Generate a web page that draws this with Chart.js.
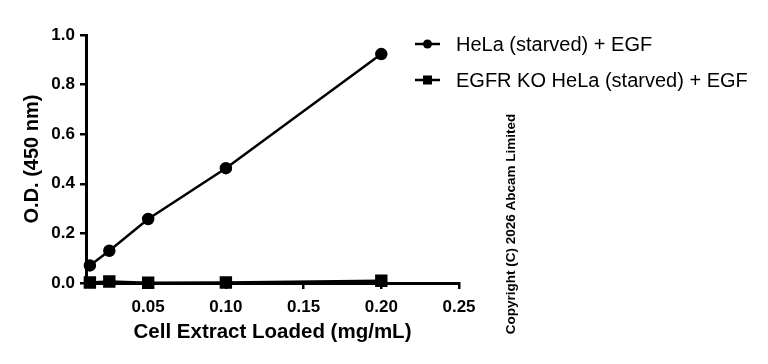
<!DOCTYPE html>
<html>
<head>
<meta charset="utf-8">
<script src="https://cdn.jsdelivr.net/npm/chart.js@4"></script>
<style>
  html, body { margin: 0; padding: 0; background: #fff; }
  #wrap { position: relative; width: 768px; height: 364px; }
</style>
</head>
<body>
<div id="wrap"><canvas id="c" width="768" height="364"></canvas></div>
<script>
const concentrations = [0.0125, 0.025, 0.05, 0.1, 0.2];
const helaValues = [0.071, 0.130, 0.258, 0.463, 0.923];
const koValues = [0.002, 0.006, 0.001, 0.002, 0.009];
const seriesNames = ['HeLa (starved) + EGF', 'EGFR KO HeLa (starved) + EGF'];
const xTickValues = [0.05, 0.10, 0.15, 0.20, 0.25];
const yTickValues = [0.0, 0.2, 0.4, 0.6, 0.8, 1.0];
const xTitle = 'Cell Extract Loaded (mg/mL)';
const yTitle = 'O.D. (450 nm)';
const copyrightText = 'Copyright (C) 2026 Abcam Limited';

const FONT = '"Liberation Sans", Arial, Helvetica, sans-serif';

const toPts = (xs, ys) => xs.map((x, i) => ({ x: x, y: ys[i] }));

const overlayPlugin = {
  id: 'overlay',
  afterDraw(chart) {
    const ctx = chart.ctx;
    ctx.save();
    const items = [
      { label: seriesNames[0], style: 'circle', y: 44 },
      { label: seriesNames[1], style: 'rect', y: 80 }
    ];
    items.forEach(it => {
      ctx.strokeStyle = '#000';
      ctx.lineWidth = 2.5;
      ctx.beginPath();
      ctx.moveTo(415, it.y);
      ctx.lineTo(440, it.y);
      ctx.stroke();
      ctx.fillStyle = '#000';
      if (it.style === 'circle') {
        ctx.beginPath();
        ctx.arc(427.5, it.y, 4.5, 0, Math.PI * 2);
        ctx.fill();
      } else {
        ctx.fillRect(423, it.y - 4.5, 9, 9);
      }
      ctx.font = '20px ' + FONT;
      ctx.textBaseline = 'middle';
      ctx.textAlign = 'left';
      ctx.fillText(it.label, 456, it.y + 1);
    });
    ctx.translate(511, 224);
    ctx.rotate(-Math.PI / 2);
    ctx.font = 'bold 13.5px ' + FONT;
    ctx.textAlign = 'center';
    ctx.textBaseline = 'middle';
    ctx.fillStyle = '#000';
    ctx.fillText(copyrightText, 0, 0);
    ctx.restore();
  }
};

new Chart(document.getElementById('c'), {
  type: 'scatter',
  data: {
    datasets: [
      {
        label: seriesNames[0],
        data: toPts(concentrations, helaValues),
        showLine: true,
        borderColor: '#000',
        backgroundColor: '#000',
        borderWidth: 2.5,
        pointStyle: 'circle',
        pointRadius: 5,
        pointHoverRadius: 5,
        clip: false
      },
      {
        label: seriesNames[1],
        data: toPts(concentrations, koValues),
        showLine: true,
        borderColor: '#000',
        backgroundColor: '#000',
        borderWidth: 2.5,
        pointStyle: 'rect',
        pointRadius: 7,
        pointHoverRadius: 7,
        clip: false
      }
    ]
  },
  options: {
    responsive: false,
    animation: false,
    events: [],
    layout: { padding: { top: 35, right: 309, left: 0, bottom: 0 } },
    plugins: {
      legend: { display: false },
      tooltip: { enabled: false }
    },
    scales: {
      x: {
        type: 'linear',
        min: 0.01,
        max: 0.25,
        afterBuildTicks(scale) {
          scale.ticks = xTickValues.map(v => ({ value: v }));
        },
        afterFit(scale) { scale.height = 81; },
        border: { display: true, color: '#000', width: 3 },
        grid: { drawOnChartArea: false, drawTicks: true, tickLength: 6, color: '#000', lineWidth: 2.5 },
        ticks: {
          color: '#000',
          font: { family: FONT, size: 17, weight: 'bold' },
          padding: 8,
          maxRotation: 0,
          callback: v => Number(v).toFixed(2)
        },
        title: {
          display: true,
          text: xTitle,
          color: '#000',
          font: { family: FONT, size: 20.5, weight: 'bold' },
          padding: { top: 0, bottom: 19 }
        }
      },
      y: {
        type: 'linear',
        min: 0,
        max: 1.0,
        afterBuildTicks(scale) {
          scale.ticks = yTickValues.map(v => ({ value: v }));
        },
        afterFit(scale) { scale.width = 86; },
        border: { display: true, color: '#000', width: 3 },
        grid: { drawOnChartArea: false, drawTicks: true, tickLength: 6, color: '#000', lineWidth: 2.5 },
        ticks: {
          color: '#000',
          font: { family: FONT, size: 17, weight: 'bold' },
          padding: 5,
          callback: v => Number(v).toFixed(1)
        },
        title: {
          display: true,
          text: yTitle,
          color: '#000',
          font: { family: FONT, size: 20, weight: 'bold' },
          padding: { top: 20, bottom: 0 }
        }
      }
    }
  },
  plugins: [overlayPlugin]
});
</script>
</body>
</html>
